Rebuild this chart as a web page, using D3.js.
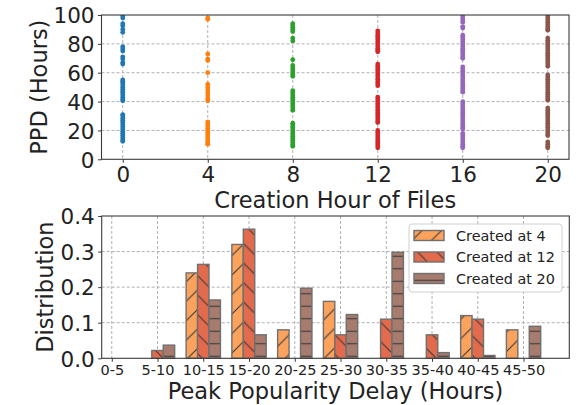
<!DOCTYPE html>
<html>
<head>
<meta charset="utf-8">
<script src="https://cdn.jsdelivr.net/npm/d3@7"></script>
<style>
  html, body { margin: 0; padding: 0; background: #fff; }
  svg { display: block; font-family: "DejaVu Sans", sans-serif; }
</style>
</head>
<body>
<svg id="chart" width="583" height="405"></svg>
<script>
// ---- Top panel: peak popularity delay of files by creation hour ----
const creationHours = [0, 4, 8, 12, 16, 20];
const hourColors = ["#1f77b4", "#ff7f0e", "#2ca02c", "#d62728", "#9467bd", "#8c564b"];
const ppdHour0 = [99.5, 98, 94, 92.5, 90, 88, 78, 76.5, 75, 71, 69.5, 67, 66, 55, 54, 53, 51.5, 50, 48.5, 47, 46, 44.5, 43, 41.5, 40.5, 31, 30, 28.5, 27, 25.5, 24, 22.5, 21, 19.5, 18, 16.5, 15, 13.5, 12.5];
const ppdHour4 = [98, 97, 73, 69.5, 68.5, 60, 52, 50, 48, 46, 44, 42, 40.5, 26, 24.5, 23, 21.5, 20, 18.5, 17, 15.5, 14, 12.5, 11, 10.5];
const ppdHour8 = [94, 93, 91.5, 90, 88.5, 84, 82, 69, 65, 63.5, 62, 60.5, 59, 57.5, 47.5, 46, 44.5, 43, 41.5, 40, 38.5, 37, 35.5, 34, 25, 23.5, 22, 20.5, 19, 17.5, 16, 14.5, 13, 11.5, 10, 9];
const ppdHour12 = [89, 87.5, 86, 84.5, 83, 81.5, 80, 78.5, 77, 75.5, 74.5, 66, 64.5, 63, 61.5, 60, 58.5, 57, 55.5, 54, 52.5, 51, 43, 41.5, 40, 38.5, 37, 35.5, 34, 32.5, 31, 29.5, 28, 26.5, 25.5, 20, 18.5, 17, 15.5, 14, 12.5, 11, 9.5, 8];
const ppdHour16 = [99.5, 98, 96.5, 95, 92, 91, 86, 84.5, 83, 81.5, 80, 78.5, 77, 75.5, 74, 72.5, 71, 70, 64, 62.5, 61, 59.5, 58, 56.5, 55, 53.5, 52, 50.5, 49, 47.5, 46.5, 40, 38.5, 37, 35.5, 34, 32.5, 31, 29.5, 28, 26.5, 25, 23.5, 22, 21, 18, 16.5, 15, 13.5, 12, 10.5, 9, 8];
const ppdHour20 = [99.5, 98, 96.5, 95, 93.5, 92, 90.5, 89.5, 84, 82.5, 81, 79.5, 78, 76.5, 75, 73.5, 72, 70.5, 69, 67.5, 66, 64.5, 58.5, 57, 55.5, 54, 52.5, 51, 49.5, 48, 46.5, 45, 43.5, 42, 41, 35.5, 34, 32.5, 31, 29.5, 28, 26.5, 25, 23.5, 22, 20.5, 19, 17.5, 16.5, 12, 10.5, 9, 8];
const ppdByHour = [ppdHour0, ppdHour4, ppdHour8, ppdHour12, ppdHour16, ppdHour20];
const ppdTicks = [0, 20, 40, 60, 80, 100];

// ---- Bottom panel: distribution of peak popularity delay ----
const delayBins = ["0-5", "5-10", "10-15", "15-20", "20-25", "25-30", "30-35", "35-40", "40-45", "45-50"];
const distCreated4 = [0, 0, 0.24, 0.32, 0.08, 0.16, 0, 0, 0.12, 0.08];
const distCreated12 = [0, 0.022, 0.264, 0.363, 0, 0.066, 0.110, 0.066, 0.110, 0];
const distCreated20 = [0, 0.037, 0.164, 0.066, 0.197, 0.123, 0.298, 0.016, 0.008, 0.090];
const seriesNames = ["Created at 4", "Created at 12", "Created at 20"];
const distTicks = [0.0, 0.1, 0.2, 0.3, 0.4];

const svg = d3.select("#chart");
const gridColor = "#b0b0b0";
const spineColor = "#3a3a3a";
const textColor = "#222";
const tickFont = 21.5;
const labelFont = 22.5;

// hatch patterns for the three bar series
const defs = svg.append("defs");
const seriesFill = ["#fba25c", "#e26a4d", "#a77b6d"];
function addHatch(id, fill, size, pathD) {
  const p = defs.append("pattern")
    .attr("id", id).attr("patternUnits", "userSpaceOnUse")
    .attr("width", size).attr("height", size);
  p.append("rect").attr("width", size).attr("height", size).attr("fill", fill);
  p.append("path").attr("d", pathD).attr("stroke", "#3b3b3b").attr("stroke-width", 1.1).attr("fill", "none");
}
const ds = 19.5;   // diagonal hatch period
const hs = 12.5;   // horizontal hatch period
addHatch("hatch-fwd", seriesFill[0], ds, `M0,${ds} L${ds},0 M-1,1 L1,-1 M${ds-1},${ds+1} L${ds+1},${ds-1}`);
addHatch("hatch-back", seriesFill[1], ds, `M0,0 L${ds},${ds} M-1,${ds-1} L1,${ds+1} M${ds-1},-1 L${ds+1},1`);
addHatch("hatch-horiz", seriesFill[2], hs, `M0,${hs/2} L${hs},${hs/2}`);
const hatchIds = ["hatch-fwd", "hatch-back", "hatch-horiz"];

function styleAxis(g, fontSize) {
  g.select(".domain").remove();
  g.selectAll(".tick line").attr("stroke", spineColor).attr("stroke-width", 1);
  g.selectAll(".tick text").attr("fill", textColor).attr("font-size", fontSize)
    .attr("font-family", "DejaVu Sans, sans-serif");
}

// ================= top panel =================
const topBox = { left: 101.5, right: 569, top: 15, bottom: 159.3 };
const xHour = d3.scaleLinear().domain([-1, 21]).range([topBox.left, topBox.right]);
const yPPD = d3.scaleLinear().domain([0, 100]).range([topBox.bottom, topBox.top]);

const gTop = svg.append("g");
// grid
gTop.append("g").selectAll("line").data(ppdTicks.slice(1, -1)).join("line")
  .attr("x1", topBox.left).attr("x2", topBox.right)
  .attr("y1", d => yPPD(d)).attr("y2", d => yPPD(d))
  .attr("stroke", gridColor).attr("stroke-width", 1).attr("stroke-dasharray", "3,2");
gTop.append("g").selectAll("line").data(creationHours).join("line")
  .attr("x1", d => xHour(d)).attr("x2", d => xHour(d))
  .attr("y1", topBox.top).attr("y2", topBox.bottom)
  .attr("stroke", gridColor).attr("stroke-width", 1).attr("stroke-dasharray", "3,2");

defs.append("clipPath").attr("id", "clip-top").append("rect")
  .attr("x", topBox.left).attr("y", topBox.top)
  .attr("width", topBox.right - topBox.left).attr("height", topBox.bottom - topBox.top);

const pts = gTop.append("g").attr("clip-path", "url(#clip-top)");
creationHours.forEach((hr, i) => {
  pts.append("g").selectAll("circle").data(ppdByHour[i]).join("circle")
    .attr("cx", xHour(hr)).attr("cy", d => yPPD(d)).attr("r", 2.4)
    .attr("fill", hourColors[i]);
});

const axTopX = gTop.append("g").attr("transform", `translate(0,${topBox.bottom})`)
  .call(d3.axisBottom(xHour).tickValues(creationHours).tickSize(3.5).tickPadding(3.5));
styleAxis(axTopX, tickFont);
const axTopY = gTop.append("g").attr("transform", `translate(${topBox.left},0)`)
  .call(d3.axisLeft(yPPD).tickValues(ppdTicks).tickSize(3.5).tickPadding(3.5));
styleAxis(axTopY, tickFont);
axTopY.selectAll(".tick text").attr("dy", "0.36em");

gTop.append("rect").attr("x", topBox.left).attr("y", topBox.top)
  .attr("width", topBox.right - topBox.left).attr("height", topBox.bottom - topBox.top)
  .attr("fill", "none").attr("stroke", spineColor).attr("stroke-width", 1.1);

gTop.append("text").attr("x", (topBox.left + topBox.right) / 2).attr("y", 208)
  .attr("text-anchor", "middle").attr("font-size", labelFont).attr("fill", textColor)
  .text("Creation Hour of Files");
gTop.append("text")
  .attr("transform", `translate(47,${(topBox.top + topBox.bottom) / 2}) rotate(-90)`)
  .attr("text-anchor", "middle").attr("font-size", labelFont).attr("fill", textColor)
  .text("PPD (Hours)");

// ================= bottom panel =================
const botBox = { left: 101.7, right: 569.3, top: 216, bottom: 358.3 };
const xBin = d3.scaleLinear().domain([-0.22, 10.0]).range([botBox.left, botBox.right]);
const yDist = d3.scaleLinear().domain([0, 0.4]).range([botBox.bottom, botBox.top]);
const barW = 0.25;
const binIdx = delayBins.map((_, i) => i);

const gBot = svg.append("g");
gBot.append("g").selectAll("line").data(distTicks.slice(1, -1)).join("line")
  .attr("x1", botBox.left).attr("x2", botBox.right)
  .attr("y1", d => yDist(d)).attr("y2", d => yDist(d))
  .attr("stroke", gridColor).attr("stroke-width", 1).attr("stroke-dasharray", "3,2");
gBot.append("g").selectAll("line").data(binIdx).join("line")
  .attr("x1", d => xBin(d)).attr("x2", d => xBin(d))
  .attr("y1", botBox.top).attr("y2", botBox.bottom)
  .attr("stroke", gridColor).attr("stroke-width", 1).attr("stroke-dasharray", "3,2");

const series = [distCreated4, distCreated12, distCreated20];
series.forEach((vals, s) => {
  const offset = (s - 1) * barW;
  gBot.append("g").selectAll("rect")
    .data(vals.map((v, i) => ({ v, i })).filter(d => d.v > 0))
    .join("rect")
    .attr("x", d => xBin(d.i + offset - barW / 2))
    .attr("width", d => xBin(d.i + offset + barW / 2) - xBin(d.i + offset - barW / 2))
    .attr("y", d => yDist(d.v))
    .attr("height", d => yDist(0) - yDist(d.v))
    .attr("fill", `url(#${hatchIds[s]})`)
    .attr("stroke", "#707070").attr("stroke-width", 1.4);
});

const axBotX = gBot.append("g").attr("transform", `translate(0,${botBox.bottom})`)
  .call(d3.axisBottom(xBin).tickValues(binIdx).tickFormat(i => delayBins[i]).tickSize(3.5).tickPadding(3));
styleAxis(axBotX, 14.5);
const axBotY = gBot.append("g").attr("transform", `translate(${botBox.left},0)`)
  .call(d3.axisLeft(yDist).tickValues(distTicks).tickFormat(d3.format(".1f")).tickSize(3.5).tickPadding(3.5));
styleAxis(axBotY, tickFont);
axBotY.selectAll(".tick text").attr("dy", "0.36em");

gBot.append("rect").attr("x", botBox.left).attr("y", botBox.top)
  .attr("width", botBox.right - botBox.left).attr("height", botBox.bottom - botBox.top)
  .attr("fill", "none").attr("stroke", spineColor).attr("stroke-width", 1.1);

gBot.append("text").attr("x", (botBox.left + botBox.right) / 2).attr("y", 398.5)
  .attr("text-anchor", "middle").attr("font-size", labelFont).attr("fill", textColor)
  .text("Peak Popularity Delay (Hours)");
gBot.append("text")
  .attr("transform", `translate(53,${(botBox.top + botBox.bottom) / 2}) rotate(-90)`)
  .attr("text-anchor", "middle").attr("font-size", labelFont).attr("fill", textColor)
  .text("Distribution");

// legend
const leg = gBot.append("g").attr("transform", "translate(409,224)");
leg.append("rect").attr("width", 153).attr("height", 68).attr("rx", 3)
  .attr("fill", "#fff").attr("fill-opacity", 0.85).attr("stroke", "#d0d0d0");
seriesNames.forEach((name, s) => {
  const cy = 11.5 + s * 21.5;
  leg.append("rect").attr("x", 5).attr("y", cy - 5).attr("width", 30).attr("height", 10)
    .attr("fill", `url(#${hatchIds[s]})`).attr("stroke", "#707070").attr("stroke-width", 1.4);
  leg.append("text").attr("x", 47).attr("y", cy).attr("dy", "0.36em")
    .attr("font-size", 14.4).attr("fill", textColor).text(name);
});
</script>
</body>
</html>
